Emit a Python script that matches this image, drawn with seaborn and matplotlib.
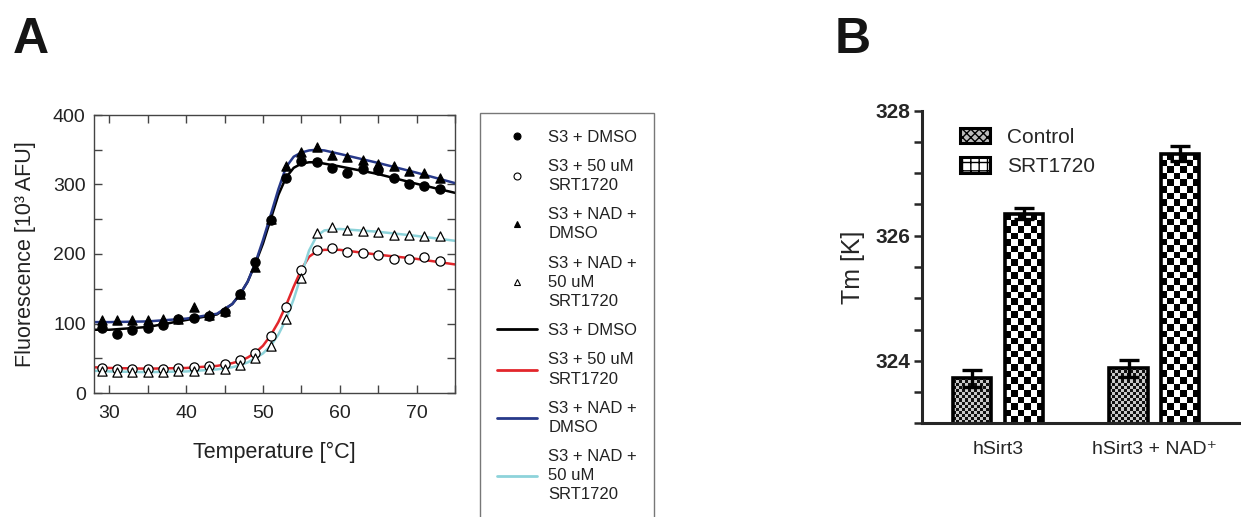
import matplotlib
matplotlib.use("Agg")
import matplotlib.pyplot as plt
from matplotlib.colors import ListedColormap
from matplotlib.lines import Line2D
from matplotlib.patches import Patch
from matplotlib.ticker import MultipleLocator
import numpy as np
import pandas as pd
import seaborn as sns

# ---- panel A: thermal shift raw data (every 2 degC) ----
temp_pts = [29, 31, 33, 35, 37, 39, 41, 43, 45, 47, 49, 51,
            53, 55, 57, 59, 61, 63, 65, 67, 69, 71, 73]
dmso_pts = [93, 85, 91, 93, 98, 106, 108, 111, 117, 142, 189, 249,
            309, 334, 333, 324, 317, 323, 321, 310, 301, 298, 293]
srt_pts = [36, 35, 35, 35, 35, 36, 37, 39, 42, 47, 58, 82,
           124, 177, 206, 208, 203, 202, 199, 193, 193, 196, 190]
nad_dmso_pts = [105, 105, 105, 105, 106, 107, 124, 112, 118, 142, 182, 250,
                327, 347, 354, 342, 339, 335, 330, 326, 319, 316, 310]
nad_srt_pts = [32, 30, 30, 30, 30, 31, 31, 34, 35, 40, 50, 67,
               106, 166, 230, 239, 234, 233, 231, 228, 227, 226, 226]

# ---- panel A: fitted curves ----
fit_temp = [28, 30, 35, 40, 44, 46, 47, 48, 49, 50, 51, 52, 53,
            54, 55, 56, 57, 58, 60, 65, 70, 75]
dmso_fit = [91, 91, 95, 105, 113, 128, 142, 160, 186, 215, 250, 285, 310,
            324, 330, 332, 332, 330, 326, 315, 301, 288]
srt_fit = [37, 36, 35, 36, 39, 43, 46, 51, 58, 68, 83, 102, 126,
           153, 178, 196, 204, 206, 206, 199, 193, 185]
nad_dmso_fit = [102, 102, 103, 107, 114, 128, 142, 160, 187, 220, 256, 293, 325,
                340, 346, 349, 350, 349, 344, 331, 317, 302]
nad_srt_fit = [32, 31, 30, 31, 34, 37, 40, 44, 50, 57, 68, 84, 106,
               135, 170, 205, 226, 234, 236, 232, 226, 219]

# ---- panel B: melting temperatures ----
groups = ["hSirt3", "hSirt3 + NAD\u207a"]
conditions = ["Control", "SRT1720"]
tm_control = [323.72, 323.88]
tm_srt = [326.35, 327.31]
tm_control_err = [0.14, 0.14]
tm_srt_err = [0.09, 0.12]

sns.set_style("ticks")
plt.rcParams["font.family"] = ["Liberation Sans", "DejaVu Sans"]

W, H = 1241, 517
fig = plt.figure(figsize=(W / 100, H / 100), dpi=100)

# ================= panel A =================
axA = fig.add_axes([94 / W, 1 - 393 / H, 361 / W, 278 / H])

line_styles = [
    (dmso_fit, "black"),
    (srt_fit, "#e2262b"),
    (nad_dmso_fit, "#27398a"),
    (nad_srt_fit, "#8dd3da"),
]
for yvals, col in line_styles:
    sns.lineplot(x=fit_temp, y=yvals, color=col, linewidth=1.8, ax=axA, zorder=2)

marker_styles = [
    (dmso_pts, "o", "black"),
    (srt_pts, "o", "white"),
    (nad_dmso_pts, "^", "black"),
    (nad_srt_pts, "^", "white"),
]
for yvals, mk, fc in marker_styles:
    sns.scatterplot(x=temp_pts, y=yvals, marker=mk, color=fc, edgecolor="black",
                    linewidth=0.9, s=44, ax=axA, zorder=3)

axA.set_xlim(28, 75)
axA.set_ylim(0, 400)
axA.xaxis.set_major_locator(MultipleLocator(10))
axA.xaxis.set_minor_locator(MultipleLocator(5))
axA.yaxis.set_major_locator(MultipleLocator(100))
axA.yaxis.set_minor_locator(MultipleLocator(50))
axA.tick_params(which="both", direction="in", length=6, width=1, color="#444",
                top=True, right=True, labelsize=14, labelcolor="#222")
axA.tick_params(axis="x", pad=9)
axA.tick_params(axis="y", pad=6)
for sp in axA.spines.values():
    sp.set_visible(True)
    sp.set_color("#444")
    sp.set_linewidth(1)
axA.set_xlabel("Temperature [\u00b0C]", fontsize=15.5, labelpad=14, color="#222")
axA.set_ylabel("Fluorescence [10\u00b3 AFU]", fontsize=15.5, labelpad=12, color="#222")

legend_labels = ["S3 + DMSO", "S3 + 50 uM\nSRT1720", "S3 + NAD +\nDMSO",
                 "S3 + NAD +\n50 uM\nSRT1720",
                 "S3 + DMSO", "S3 + 50 uM\nSRT1720", "S3 + NAD +\nDMSO",
                 "S3 + NAD +\n50 uM\nSRT1720"]
handles = [Line2D([], [], ls="none", marker=mk, mfc=fc, mec="black", mew=0.8, ms=5)
           for _, mk, fc in marker_styles]
handles += [Line2D([], [], color=col, lw=2) for _, col in line_styles]
legA = fig.legend(handles, legend_labels, loc="upper left",
                  bbox_to_anchor=(480 / W, 1 - 113 / H), borderaxespad=0,
                  fontsize=12, frameon=True, fancybox=False, edgecolor="#555",
                  handlelength=2.4, handletextpad=0.7, borderpad=1.0,
                  labelspacing=0.85)
legA.get_frame().set_linewidth(1)
for t in legA.get_texts():
    t.set_multialignment("left")
    t.set_linespacing(1.35)
    t.set_color("#222")

fig.text(13 / W, 1 - 53 / H, "A", fontsize=36, fontweight="bold", color="#151515")

# ================= panel B =================
axB = fig.add_axes([921.7 / W, 1 - 423.3 / H, 320 / W, 312.6 / H])
df = pd.DataFrame({
    "group": groups * 2,
    "condition": [conditions[0]] * 2 + [conditions[1]] * 2,
    "tm": tm_control + tm_srt,
})
sns.barplot(data=df, x="group", y="tm", hue="condition", order=groups,
            hue_order=conditions, palette=["white", "white"], edgecolor="black",
            linewidth=2.6, width=0.66, gap=0.26, legend=False, ax=axB, zorder=2)
axB.set_xlim(-0.49, 1.56)
axB.set_ylim(323, 328)


def checker_fill(ax, patch, cell_px, dark, light):
    x, w = patch.get_x(), patch.get_width()
    y0 = max(patch.get_y(), ax.get_ylim()[0])
    y1 = patch.get_y() + patch.get_height()
    (px0, py0), (px1, py1) = ax.transData.transform([(x, y0), (x + w, y1)])
    nx = max(1, int(round(abs(px1 - px0) / cell_px)))
    ny = max(1, int(round(abs(py1 - py0) / cell_px)))
    grid = np.indices((ny, nx)).sum(axis=0) % 2
    im = ax.imshow(grid, cmap=ListedColormap([light, dark]), extent=(x, x + w, y0, y1),
                   aspect="auto", interpolation="nearest", origin="lower", zorder=1)
    im.set_clip_path(patch)
    patch.set_facecolor("none")


cells = {0: (3.0, "#111111", "#c8c8c8"), 1: (6.5, "black", "white")}
for i, cont in enumerate(axB.containers):
    for patch in cont:
        checker_fill(axB, patch, *cells[i])
axB.set_xlim(-0.49, 1.56)
axB.set_ylim(323, 328)

for cont, vals, errs in zip(axB.containers, [tm_control, tm_srt],
                            [tm_control_err, tm_srt_err]):
    xs = [p.get_x() + p.get_width() / 2 for p in cont]
    axB.errorbar(xs, vals, yerr=errs, fmt="none", ecolor="black", elinewidth=2.4,
                 capsize=7, capthick=2.4, zorder=5)

axB.yaxis.set_major_locator(MultipleLocator(2))
axB.yaxis.set_minor_locator(MultipleLocator(0.5))
axB.tick_params(axis="y", which="both", direction="out", length=6, width=1.8,
                labelsize=15, pad=2)
for lab in axB.get_yticklabels():
    lab.set_fontweight("bold")
axB.tick_params(axis="x", length=0, labelsize=14, pad=13)
sns.despine(ax=axB)
axB.spines["left"].set_linewidth(2.2)
axB.spines["bottom"].set_linewidth(2.2)
axB.set_xlabel("")
axB.set_ylabel("Tm [K]", fontsize=18, labelpad=8)

legB_handles = [
    Patch(facecolor="#bdbdbd", edgecolor="black", hatch="xxxx", linewidth=2.2),
    Patch(facecolor="white", edgecolor="black", hatch="++", linewidth=2.2),
]
legB = axB.legend(legB_handles, conditions, loc="upper left",
                  bbox_to_anchor=(0.062, 1.005), frameon=False, fontsize=15,
                  handlelength=1.45, handleheight=0.75, handletextpad=0.8,
                  labelspacing=0.5)

fig.text(835 / W, 1 - 53 / H, "B", fontsize=36, fontweight="bold", color="#151515")

fig.savefig("out.png", dpi=100)
